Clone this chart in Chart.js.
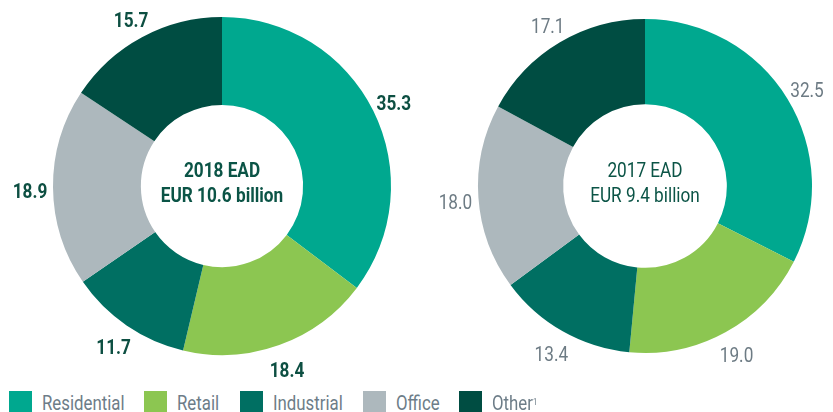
<!DOCTYPE html>
<html>
<head>
<meta charset="utf-8">
<script src="https://cdn.jsdelivr.net/npm/chart.js@4.4.1/dist/chart.umd.min.js"></script>
<style>
  html, body { margin: 0; padding: 0; background: #fff; }
  body { width: 833px; height: 412px; position: relative; overflow: hidden; }
  canvas { position: absolute; top: 0; }
  #left { left: 0; }
  #right { left: 420px; }
  #legend { position: absolute; left: 0; top: 391px; }
  .item { position: absolute; top: 0; display: flex; align-items: flex-start; }
  .box { width: 23px; height: 23px; }
  .lbl { font-family: Roboto, sans-serif; font-size: 20px; color: #6d7d88; line-height: 22px;
         margin-left: 10px; padding-top: 1px; transform: scaleX(0.84); transform-origin: left top; white-space: nowrap; }
  sup { font-size: 9px; vertical-align: top; position: relative; top: -1px; }
</style>
</head>
<body>
<canvas id="left" width="440" height="390"></canvas>
<canvas id="right" width="413" height="390"></canvas>
<div id="legend"></div>
<script>
const categories = ['Residential', 'Retail', 'Industrial', 'Office', 'Other'];
const colors = ['#00a88f', '#8cc651', '#006f62', '#adb8bd', '#004d42'];
const values2018 = [35.3, 18.4, 11.7, 18.9, 15.7];
const values2017 = [32.5, 19.0, 13.4, 18.0, 17.1];

const FONT = 'Roboto, sans-serif';
const SQUEEZE = 0.86;

function narrowText(ctx, text, x, y) {
    ctx.save();
    ctx.translate(x, y);
    ctx.scale(SQUEEZE, 1);
    ctx.fillText(text, 0, 0);
    ctx.restore();
}

const doughnutLabels = {
    id: 'doughnutLabels',
    afterDraw(chart, args, opts) {
        const ctx = chart.ctx;
        const arcs = chart.getDatasetMeta(0).data;
        const data = chart.data.datasets[0].data;
        ctx.save();
        ctx.textAlign = 'center';
        ctx.textBaseline = 'middle';
        ctx.font = opts.font;
        ctx.fillStyle = opts.color;
        arcs.forEach((arc, i) => {
            const p = arc.getProps(['startAngle', 'endAngle', 'x', 'y', 'outerRadius'], true);
            const mid = (p.startAngle + p.endAngle) / 2;
            const r = p.outerRadius + 23;
            narrowText(ctx, data[i].toFixed(1), p.x + Math.cos(mid) * r, p.y + Math.sin(mid) * r + 5);
        });
        const c = arcs[0];
        ctx.font = opts.centerFont;
        ctx.fillStyle = '#0b5446';
        narrowText(ctx, opts.title[0], c.x, c.y - 14);
        narrowText(ctx, opts.title[1], c.x, c.y + 11);
        ctx.restore();
    }
};

function makeChart(id, values, padding, cutout, labelOpts) {
    return new Chart(document.getElementById(id), {
        type: 'doughnut',
        data: {
            labels: categories,
            datasets: [{ data: values, backgroundColor: colors, borderWidth: 0 }]
        },
        options: {
            responsive: false,
            animation: false,
            cutout: cutout,
            layout: { padding: padding },
            plugins: {
                legend: { display: false },
                tooltip: { enabled: false },
                doughnutLabels: labelOpts
            }
        },
        plugins: [doughnutLabels]
    });
}

makeChart('left', values2018, { left: 53, right: 49, top: 17, bottom: 35 }, '48%', {
    font: 'bold 20px ' + FONT,
    color: '#0d4f42',
    centerFont: 'bold 20px ' + FONT,
    title: ['2018 EAD', 'EUR 10.6 billion']
});

makeChart('right', values2017, { left: 58, right: 21, top: 19, bottom: 37 }, '49%', {
    font: '20px ' + FONT,
    color: '#6d7b84',
    centerFont: '20px ' + FONT,
    title: ['2017 EAD', 'EUR 9.4 billion']
});

// legend below both doughnuts
const legendStarts = [9, 144, 240, 363, 459];
const legend = document.getElementById('legend');
categories.forEach((name, i) => {
    const item = document.createElement('div');
    item.className = 'item';
    item.style.left = legendStarts[i] + 'px';
    item.innerHTML = `<div class="box" style="background:${colors[i]}"></div>` +
        `<div class="lbl">${name}${name === 'Other' ? '<sup>1</sup>' : ''}</div>`;
    legend.appendChild(item);
});
</script>
</body>
</html>
